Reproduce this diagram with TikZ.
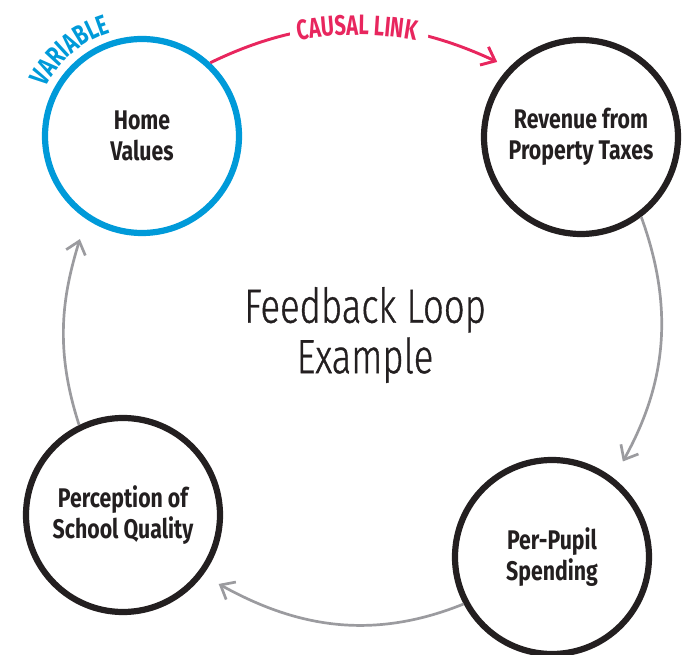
\documentclass[tikz,border=0pt]{standalone}
\usepackage{fontspec}
\setmainfont{Fira Sans}
\newfontfamily\narrowfont{Fira Sans}[FakeStretch=0.79]
\newfontfamily\tagfont{Fira Sans}[FakeStretch=0.72]
\newfontfamily\thinfont{Fira Sans Light}[FakeStretch=0.76, FakeBold=0.8]
\usetikzlibrary{arrows.meta, decorations.text}

\definecolor{varblue}{HTML}{009AD9}
\definecolor{linkpink}{HTML}{E8265E}
\definecolor{loopgray}{HTML}{9B9B9F}
\definecolor{ink}{HTML}{231F20}

\tikzset{
	varnode/.style={draw=ink, circle, minimum size=5.82cm, line width=5.3pt, align=center, text=ink,
		font=\narrowfont\bfseries\fontsize{23}{26.5}\selectfont},
	causal/.style={line width=2.5pt, draw=linkpink, -{Straight Barb[length=3.6mm, width=6mm]}},
	grayarrow/.style={line width=2.3pt, draw=loopgray, -{Straight Barb[length=3.6mm, width=6mm]}},
}

\begin{document}
\begin{tikzpicture}[x=0.03cm, y=-0.03cm]
	\useasboundingbox (0, 0) rectangle (686, 655);
	% the four variables
	\node (hv)	at (142, 136)	[varnode, draw=varblue]	{Home\\Values};
	\node (rev)	at (581, 137)	[varnode]	{Revenue from\\Property Taxes};
	\node (pps)	at (552, 557)	[varnode]	{Per-Pupil\\Spending};
	\node (psq)	at (123, 515)	[varnode]	{Perception of\\School Quality};
	% title in the middle
	\node (title) at (365, 335) [text=ink, align=center, font=\thinfont\fontsize{41}{43}\selectfont] {Feedback Loop\\Example};
	% the loop
	\draw[causal, shorten >=0.39cm] (hv.47) to[out=26, in=155]
		node[pos=0.5, sloped, fill=white, minimum width=4.14cm, minimum height=0.9cm] {} (rev.136);
	\draw[grayarrow, shorten >=0.57cm] (rev.-53) to[out=-70, in=61] (pps.52);
	\draw[grayarrow, shorten >=0.54cm] (pps.208) to[out=202, in=-29] (psq.-37);
	\draw[grayarrow, shorten >=0.63cm] (psq.116) to[out=108, in=253] (hv.236);
	% curved labels
	\path[decorate, decoration={text along path, text align=center, text color=varblue,
		text={|\tagfont\bfseries\fontsize{24}{24}\selectfont|VARIABLE}}]
		(142, 136) ++(200:108) arc[start angle=200, end angle=260, radius=108];
	\path[decorate, decoration={text along path, text align=center, text color=linkpink,
		text={|\tagfont\bfseries\fontsize{24}{24}\selectfont|CAUSAL LINK}}]
		(357, 365) ++(250:330) arc[start angle=250, end angle=290, radius=330];
\end{tikzpicture}
\end{document}
